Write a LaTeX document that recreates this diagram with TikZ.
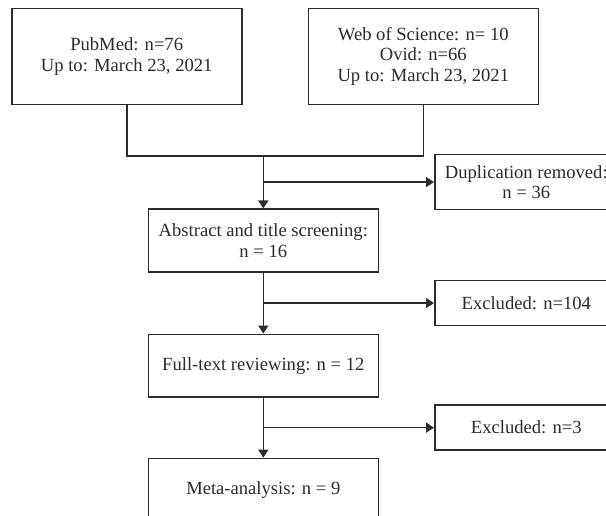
\documentclass[tikz,border=0pt]{standalone}
\usepackage{fontspec}
\setmainfont{Liberation Serif}
\usetikzlibrary{calc,arrows.meta,positioning}
\definecolor{inkgray}{HTML}{2B2B2B}
\tikzset{
    box/.style={draw=inkgray, line width=0.8pt, text=inkgray, minimum width=115pt,
    minimum height=31.25pt, align=center, text centered, inner sep=2pt,
    font=\fontsize{9.3}{10.2}\selectfont},
    srcbox/.style={box, minimum height=48pt},
    sidebox/.style={box, minimum width=91.5pt, minimum height=22.5pt},
    link/.style={draw=inkgray, line width=0.8pt},
    flow/.style={link, -{Triangle[length=4pt,width=5pt]}}
}

\begin{document}
\begin{tikzpicture}[node distance=30.5pt]
  \useasboundingbox (0,0) rectangle (303pt,-257.5pt);
  \clip (0,0) rectangle (303pt,-257.5pt);

  \node[srcbox] (A) at (63.35pt,-28.2pt) {PubMed: n=76\\Up to: March 23, 2021};
  \node[srcbox, right=32.5pt of A] (B) {Web of Science: n= 10\\Ovid: n=66\\Up to: March 23, 2021};

  \node[box] (C) at (131.65pt,-120.25pt) {Abstract and title screening:\\n = 16};
  \node[box, below=of C] (D) {Full-text reviewing: n = 12};
  \node[box, below=30pt of D] (E) {Meta-analysis: n = 9};

  \coordinate (J1) at ($(A.south)+(0,-25.25pt)$);
  \coordinate (J2) at (J1 -| B.south);
  \coordinate (J) at (J1 -| C.north);
  \coordinate (M1) at ($(J)!0.5!(C.north)$);
  \coordinate (M2) at ($(C.south)!0.5!(D.north)$);
  \coordinate (M3) at ($(D.south)!0.5!(E.north)$);

  \node[sidebox, minimum height=27.5pt, right=85.35pt of M1] (F) {Duplication removed:\\n = 36};
  \node[sidebox, right=85.35pt of M2] (G) {Excluded: n=104};
  \node[sidebox, right=85.35pt of M3] (H) {Excluded: n=3};

  \draw[link] (A.south) -- (J1) -- (J2) -- (B.south);
  \draw[flow] (J) -- (C);
  \draw[flow] (C) -- (D);
  \draw[flow] (D) -- (E);
  \draw[flow] (M1) -- (F);
  \draw[flow] (M2) -- (G);
  \draw[flow] (M3) -- (H);
\end{tikzpicture}
\end{document}
